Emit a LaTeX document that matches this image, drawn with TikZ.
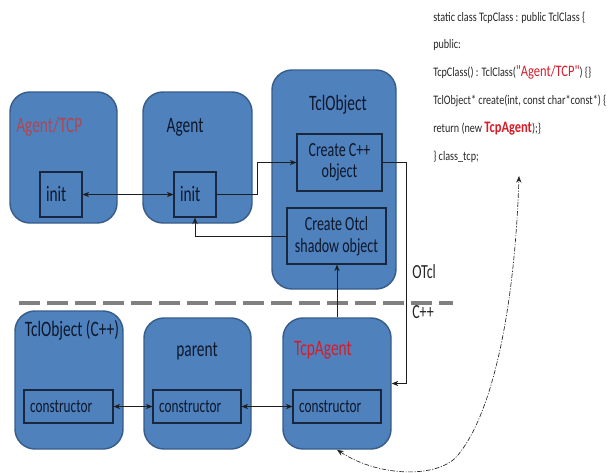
\documentclass[tikz,border=0pt]{standalone}
\usepackage{fontspec}
\setmainfont{Carlito}[FakeStretch=0.7]
\newfontfamily\codefont{Carlito}[FakeStretch=0.78]
\usetikzlibrary{arrows.meta}
\definecolor{boxblue}{RGB}{79,129,189}
\definecolor{boxline}{RGB}{56,93,138}
\definecolor{innerline}{RGB}{24,38,62}
\definecolor{labeltext}{RGB}{14,24,44}
\definecolor{tcpred}{RGB}{172,72,84}
\definecolor{agentred}{RGB}{214,28,40}
\definecolor{sepgray}{RGB}{128,128,128}
\definecolor{codetext}{RGB}{38,38,38}
\newdimen\px \px=0.75pt
\tikzset{
  outerbox/.style={draw=boxline, fill=boxblue, line width=1.1pt, rounded corners=15pt, inner sep=0pt},
  innerbox/.style={draw=innerline, line width=0.8pt, inner xsep=6\px, inner ysep=0pt, text=labeltext},
  boxtitle/.style={inner sep=0pt, text=labeltext, font=\fontsize{16.5}{18}\selectfont},
  sidetext/.style={inner sep=0pt, anchor=west, text=codetext, font=\fontsize{15}{16}\selectfont},
  codeline/.style={inner sep=0pt, anchor=base west, text=codetext, font=\codefont\fontsize{9.75}{11}\selectfont},
  link/.style={draw={rgb,255:red,30;green,30;blue,30}, line width=0.75pt, arrows={-Stealth[length=5pt,width=4pt]}},
  linkboth/.style={link, arrows={Stealth[length=5pt,width=4pt]-Stealth[length=5pt,width=4pt]}},
  separator/.style={draw=sepgray, line width=3pt, dash pattern={on 15.75pt off 5.25pt}},
  dashdot/.style={draw={rgb,255:red,40;green,40;blue,40}, line width=0.5pt, dash pattern={on 3.5pt off 1.2pt on 0.8pt off 1.2pt},
    arrows={Stealth[length=5pt,width=4pt]-Stealth[length=5pt,width=4pt]}}
}

\begin{document}
\begin{tikzpicture}[x=0.75pt,y=0.75pt,yscale=-1,xscale=1]
	\useasboundingbox (0,0) rectangle (610,472);
	
	%OTcl side
	\node [outerbox, minimum width=107\px, minimum height=131\px] (tcpbox) at (63.5,157.5) {};
	\node [outerbox, minimum width=109\px, minimum height=131\px] (agentbox) at (197.5,157.5) {};
	\node [outerbox, minimum width=124\px, minimum height=219\px] (tclbox) at (334,179.5) {};
	
	\node [boxtitle, text=tcpred, anchor=west] (tcptitle) at (16,127) {Agent/TCP};
	\node [boxtitle] (agenttitle) at (185,127) {Agent};
	\node [boxtitle] (tcltitle) at (338,105) {TclObject};
	
	\node [innerbox, minimum height=45\px, text width=30\px, align=left, font=\fontsize{16.5}{18}\selectfont] (tcpinit) at (61,194.5) {init};
	\node [innerbox, minimum height=45\px, text width=30\px, align=left, font=\fontsize{16.5}{18}\selectfont] (agentinit) at (195,194.5) {init};
	\node [innerbox, minimum width=85\px, minimum height=57\px, align=center, font=\fontsize{15}{15.5}\selectfont] (createcpp) at (339.5,162.5) {Create C++\\object};
	\node [innerbox, minimum width=99\px, minimum height=56\px, align=center, font=\fontsize{15}{16.5}\selectfont] (createotcl) at (336.5,236) {Create Otcl\\shadow object};
	
	%C++ side
	\node [outerbox, minimum width=108\px, minimum height=138\px] (tclcbox) at (69,380) {};
	\node [outerbox, minimum width=107\px, minimum height=131\px] (parentbox) at (197.5,383.5) {};
	\node [outerbox, minimum width=108\px, minimum height=131\px] (tcpagbox) at (337,383.5) {};
	
	\node [boxtitle] (tclctitle) at (72,330) {TclObject (C++)};
	\node [boxtitle] (parenttitle) at (197,351) {parent};
	\node [boxtitle, text=agentred] (tcpagtitle) at (323,350) {TcpAgent};
	
	\node [innerbox, minimum height=33\px, text width=77\px, align=left, font=\fontsize{14.25}{15}\selectfont] (cons1) at (68.5,406.5) {constructor};
	\node [innerbox, minimum height=33\px, text width=76\px, align=left, font=\fontsize{14.25}{15}\selectfont] (cons2) at (197,406.5) {constructor};
	\node [innerbox, minimum height=33\px, text width=76\px, align=left, font=\fontsize{14.25}{15}\selectfont] (cons3) at (337,406.5) {constructor};
	
	%Separator
	\draw [separator] (19,303) -- (453,303);
	\node [sidetext] (otcl) at (412,272) {OTcl};
	\node [sidetext] (cpp) at (412,312) {C++};
	
	%Connectors
	\draw [linkboth] (tcpinit) -- (agentinit);
	\draw [link] (agentinit.east) -- ++(41,0) |- (createcpp.west);
	\draw [link] (createotcl.west) -| (agentinit.south);
	\draw [link] (createcpp.east) -- ++(24,0) |- (tcpagbox.east);
	\draw [link] (tcpagbox.north) -- (tcpagbox.north |- createotcl.south);
	\draw [linkboth] (cons1) -- (cons2);
	\draw [linkboth] (cons2) -- (cons3);
	
	%Code
	\node [codeline] (code1) at (433,21) {static class TcpClass : public TclClass \{};
	\node [codeline] (code2) at (433,48) {public:};
	\node [codeline] (code3) at (433,76) {TcpClass() : TclClass({\color{agentred}\fontsize{12}{12}\selectfont "Agent/TCP"}) \{\}};
	\node [codeline] (code4) at (433,104) {TclObject* create(int, const char*const*) \{};
	\node [codeline] (code5) at (433,132) {return (new {\color{agentred}\bfseries\fontsize{12}{12}\selectfont TcpAgent});\}};
	\node [codeline] (code6) at (433,160) {\} class\_tcp;};
	\coordinate (codeend) at (519,176);
	
	\draw [dashdot] (tcpagbox.south) .. controls (380,478) and (440,478) .. (458,455) .. controls (495,410) and (515,300) .. (codeend);
	
\end{tikzpicture}
\end{document}
